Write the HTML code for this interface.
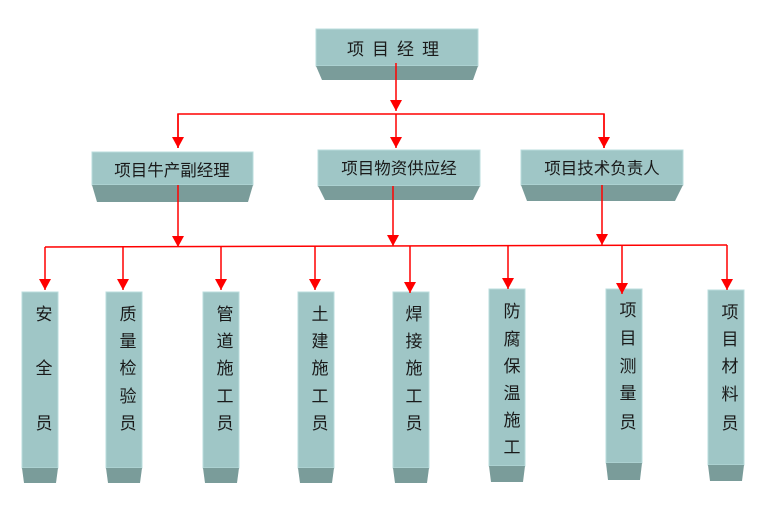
<!DOCTYPE html>
<html><head><meta charset="utf-8"><style>
html,body{margin:0;padding:0;background:#fff;}
svg{display:block}
text{font-family:"Liberation Sans","Noto Sans CJK SC",sans-serif;fill:#1a1a1a;}
</style></head><body>
<svg width="780" height="523" viewBox="0 0 780 523" xmlns="http://www.w3.org/2000/svg">
<defs>
<marker id="a" markerWidth="14" markerHeight="14" refX="11" refY="6" orient="auto" markerUnits="userSpaceOnUse">
<path d="M0,0 L11,6 L0,12 z" fill="#ff0000"/></marker>
</defs>
<g fill="#9fc6c6" stroke="#b8dcdc" stroke-width="1">
<rect x="316" y="29" width="162" height="37"/>
<rect x="92" y="152" width="161" height="33"/>
<rect x="318" y="150" width="162" height="36"/>
<rect x="521" y="150" width="162" height="35"/>
<rect x="22" y="292" width="36" height="176"/>
<rect x="106" y="292" width="36" height="176"/>
<rect x="203" y="292" width="36" height="176"/>
<rect x="298" y="292" width="36" height="176"/>
<rect x="393" y="292" width="36" height="176"/>
<rect x="489" y="289" width="36" height="177"/>
<rect x="606" y="289" width="36" height="174"/>
<rect x="708" y="290" width="36" height="175"/>
</g>
<g fill="#7a9c9a">
<polygon points="316,66 478,66 473,80 322,80"/>
<polygon points="92,185 253,185 248,202 97,202"/>
<polygon points="318,186 480,186 473,200 325,200"/>
<polygon points="521,185 683,185 675,201 527,201"/>
<polygon points="22,468 58,468 56,483 24,483"/>
<polygon points="106,468 142,468 140,483 108,483"/>
<polygon points="203,468 239,468 237,483 205,483"/>
<polygon points="298,468 334,468 332,483 300,483"/>
<polygon points="393,468 429,468 427,483 395,483"/>
<polygon points="489,466 525,466 523,482 491,482"/>
<polygon points="606,463 642,463 640,480 608,480"/>
<polygon points="708,465 744,465 742,481 710,481"/>
</g>
<g stroke="#ff0000" stroke-width="1.5" fill="none">
<line x1="396" y1="63" x2="396" y2="111" marker-end="url(#a)"/>
<polyline points="178,148 178,114 604,114 604,148"/>
<line x1="178" y1="114" x2="178" y2="148" marker-end="url(#a)"/>
<line x1="604" y1="114" x2="604" y2="148" marker-end="url(#a)"/>
<line x1="396" y1="114" x2="396" y2="148" marker-end="url(#a)"/>
<line x1="45" y1="247" x2="727" y2="245"/>
<line x1="178" y1="185" x2="178" y2="247" marker-end="url(#a)"/>
<line x1="393" y1="186" x2="393" y2="246" marker-end="url(#a)"/>
<line x1="602" y1="185" x2="602" y2="245" marker-end="url(#a)"/>
<line x1="45" y1="247" x2="45" y2="290" marker-end="url(#a)"/>
<line x1="123" y1="247" x2="123" y2="290" marker-end="url(#a)"/>
<line x1="221" y1="247" x2="221" y2="290" marker-end="url(#a)"/>
<line x1="315" y1="246" x2="315" y2="290" marker-end="url(#a)"/>
<line x1="410" y1="246" x2="410" y2="293" marker-end="url(#a)"/>
<line x1="508" y1="246" x2="508" y2="289" marker-end="url(#a)"/>
<line x1="622" y1="245" x2="622" y2="294" marker-end="url(#a)"/>
<line x1="727" y1="245" x2="727" y2="290" marker-end="url(#a)"/>
</g>
<g font-size="17" text-anchor="middle">
<text x="397" y="55" letter-spacing="8">项目经理</text>
<text x="172" y="176" font-size="16.5">项目牛产副经理</text>
<text x="399" y="174" font-size="16.5">项目物资供应经</text>
<text x="602" y="174" font-size="16.5">项目技术负责人</text>
</g>
<g font-size="17" text-anchor="middle">
<text x="44" y="320">安</text><text x="44" y="374">全</text><text x="44" y="429">员</text>
<text x="128" y="320">质</text><text x="128" y="347">量</text><text x="128" y="374">检</text><text x="128" y="402">验</text><text x="128" y="429">员</text>
<text x="225" y="320">管</text><text x="225" y="347">道</text><text x="225" y="374">施</text><text x="225" y="402">工</text><text x="225" y="429">员</text>
<text x="320" y="320">土</text><text x="320" y="347">建</text><text x="320" y="374">施</text><text x="320" y="402">工</text><text x="320" y="429">员</text>
<text x="414" y="320">焊</text><text x="414" y="347">接</text><text x="414" y="374">施</text><text x="414" y="402">工</text><text x="414" y="429">员</text>
<text x="512" y="317">防</text><text x="512" y="345">腐</text><text x="512" y="372">保</text><text x="512" y="399">温</text><text x="512" y="426">施</text><text x="512" y="453">工</text>
<text x="628" y="316">项</text><text x="628" y="344">目</text><text x="628" y="372">测</text><text x="628" y="399">量</text><text x="628" y="428">员</text>
<text x="730" y="318">项</text><text x="730" y="345">目</text><text x="730" y="372">材</text><text x="730" y="400">料</text><text x="730" y="429">员</text>
</g>
</svg>
</body></html>
